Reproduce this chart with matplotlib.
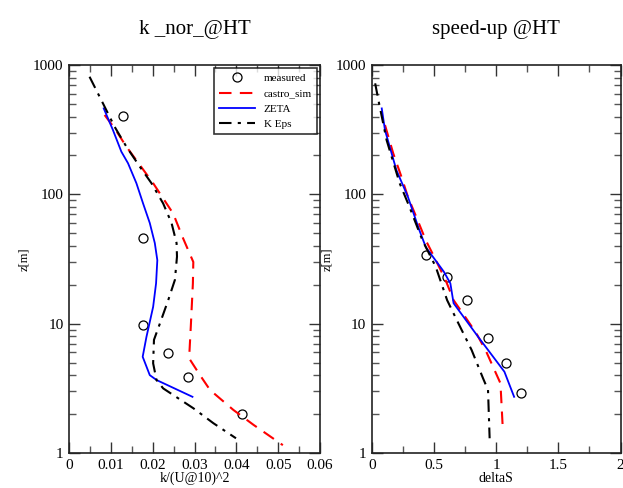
import matplotlib
matplotlib.use("Agg")
import matplotlib.pyplot as plt
from matplotlib.ticker import MultipleLocator, LogLocator, NullFormatter, FixedLocator, FixedFormatter

plt.rcParams['font.family'] = ['Liberation Serif', 'DejaVu Serif']

# ---- k_nor profile data ----
k_meas_x = [0.013, 0.0177, 0.0177, 0.0237, 0.0285, 0.0414]
k_meas_z = [405, 46, 9.8, 5.9, 3.9, 2.0]

k_castro_x = [0.0085, 0.0109, 0.0137, 0.0169, 0.0201, 0.0249, 0.0271, 0.0297, 0.0296,
              0.0291, 0.0287, 0.0313, 0.0337, 0.0393, 0.0441, 0.0511]
k_castro_z = [411, 324, 234, 169, 122, 71, 47, 30, 20.5, 9.5, 5.4, 4.0, 3.07, 2.15, 1.65, 1.15]

k_zeta_x = [0.0083, 0.0105, 0.0125, 0.0141, 0.0161, 0.0177, 0.0193, 0.0205, 0.0211,
            0.0208, 0.0201, 0.0185, 0.0176, 0.0193, 0.0209, 0.0295]
k_zeta_z = [462, 314, 214, 174, 122, 85, 60, 42, 31, 20.5, 13.5, 7.9, 5.55, 4.0, 3.67, 2.72]

k_keps_x = [0.0049, 0.0081, 0.0109, 0.0137, 0.0169, 0.0197, 0.0225, 0.0245, 0.0257, 0.0258,
            0.0253, 0.0237, 0.0217, 0.0203, 0.0201, 0.0209, 0.0225, 0.0297, 0.0345, 0.0399]
k_keps_z = [812, 506, 333, 234, 164, 122, 85, 60, 42, 33, 21.8, 15.2, 10, 7.5, 4.94, 3.67,
            3.16, 2.22, 1.7, 1.3]

# ---- speed-up profile data ----
s_meas_x = [0.439, 0.60, 0.768, 0.934, 1.081, 1.197]
s_meas_z = [34, 22.8, 15.2, 7.8, 5.0, 2.93]

s_castro_x = [0.105, 0.171, 0.237, 0.289, 0.368, 0.434, 0.50, 0.592, 0.657, 0.75, 0.841,
              0.92, 1.034, 1.052]
s_castro_z = [344, 208, 137, 96, 63, 44, 33, 21.8, 15.2, 11.3, 8.4, 6.07, 3.46, 1.6]

s_zeta_x = [0.079, 0.105, 0.197, 0.289, 0.381, 0.434, 0.50, 0.579, 0.631, 0.657, 0.855,
            1.066, 1.144]
s_zeta_z = [462, 314, 154, 96, 53, 39, 32, 25.2, 20.5, 14.4, 7.9, 4.25, 2.72]

s_keps_x = [0.026, 0.052, 0.118, 0.223, 0.302, 0.407, 0.513, 0.605, 0.697, 0.802, 0.894,
            0.934, 0.947]
s_keps_z = [722, 536, 263, 122, 80, 44, 27.6, 15.2, 10, 6.26, 3.78, 3.07, 1.3]

y_ticks = [1, 10, 100, 1000]
y_labels = ['1', '10', '100', '1000']

fig = plt.figure(figsize=(6.23, 4.88), dpi=100)
ax1 = fig.add_axes([0.1108, 0.0717, 0.403, 0.795])
ax2 = fig.add_axes([0.597, 0.0717, 0.399, 0.795])

red_dash = (0, (6, 4))
keps_dash = (0, (6, 3, 1.5, 3))


def style_axis(ax, xmax, xmajor, xminor, xlabel, title):
    ax.set_yscale('log')
    ax.set_ylim(1, 1000)
    ax.set_xlim(0, xmax)
    ax.xaxis.set_major_locator(MultipleLocator(xmajor))
    ax.xaxis.set_minor_locator(MultipleLocator(xminor))
    ax.yaxis.set_major_locator(FixedLocator(y_ticks))
    ax.yaxis.set_major_formatter(FixedFormatter(y_labels))
    ax.yaxis.set_minor_locator(LogLocator(base=10, subs=range(2, 10)))
    ax.yaxis.set_minor_formatter(NullFormatter())
    ax.tick_params(which='both', direction='in', top=True, right=True, labelsize=11, pad=4)
    ax.tick_params(which='major', length=8, width=1.0, color='#333333')
    ax.tick_params(which='minor', length=5, width=1.0, color='#555555')
    for s in ax.spines.values():
        s.set_linewidth(1.2)
        s.set_color('#222222')
    ax.set_xlabel(xlabel, fontsize=10, labelpad=0)
    ax.set_ylabel('z[m]', fontsize=9, labelpad=2)
    ax.set_title(title, fontsize=15, pad=22)


# left panel
ax1.plot(k_meas_x, k_meas_z, 'o', mfc='none', mec='black', ms=6.5, mew=0.9, label='measured')
ax1.plot(k_castro_x, k_castro_z, color='red', lw=1.5, linestyle=red_dash, label='castro_sim')
ax1.plot(k_zeta_x, k_zeta_z, color='blue', lw=1.3, label='ZETA')
ax1.plot(k_keps_x, k_keps_z, color='black', lw=1.5, linestyle=keps_dash, label='K Eps')
style_axis(ax1, 0.06, 0.01, 0.005, 'k/(U@10)^2', 'k _nor_@HT')
ax1.xaxis.set_major_formatter(matplotlib.ticker.FuncFormatter(
    lambda v, p: '0' if abs(v) < 1e-12 else f'{v:.2f}'))
leg = ax1.legend(loc='upper right', fontsize=8, frameon=True, fancybox=False,
                 edgecolor='black', borderaxespad=0.3, handlelength=3.2,
                 labelspacing=0.5, borderpad=0.45, shadow=False)
leg.get_frame().set_linewidth(1.2)

# right panel
ax2.plot(s_meas_x, s_meas_z, 'o', mfc='none', mec='black', ms=6.5, mew=0.9)
ax2.plot(s_castro_x, s_castro_z, color='red', lw=1.5, linestyle=red_dash)
ax2.plot(s_zeta_x, s_zeta_z, color='blue', lw=1.3)
ax2.plot(s_keps_x, s_keps_z, color='black', lw=1.5, linestyle=keps_dash)
style_axis(ax2, 2.0, 0.5, 0.25, 'deltaS', 'speed-up @HT')
ax2.xaxis.set_major_formatter(matplotlib.ticker.FuncFormatter(
    lambda v, p: f'{v:g}'))

fig.savefig('out.png', dpi=100)
